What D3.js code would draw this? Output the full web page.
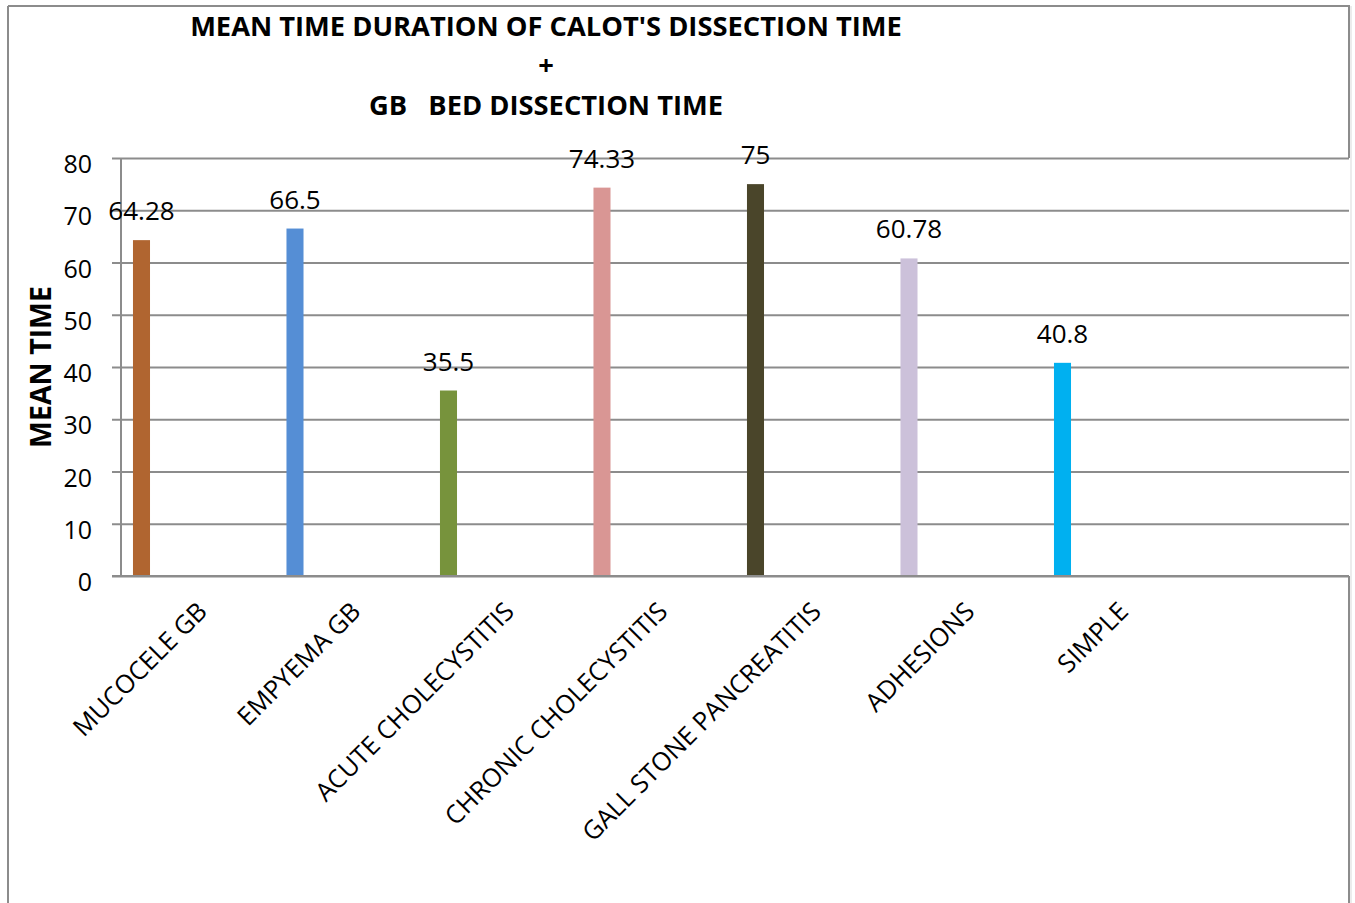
<!DOCTYPE html>
<html>
<head>
<meta charset="utf-8">
<script src="https://cdn.jsdelivr.net/npm/d3@7"></script>
<style>
  html, body { margin: 0; padding: 0; background: #fff; }
  svg { display: block; }
  text { font-family: "Open Sans", "DejaVu Sans", sans-serif; fill: #000; }
</style>
</head>
<body>
<svg id="chart" width="1355" height="903"></svg>
<script>
// Surgical categories and mean dissection time (minutes)
const categories = ["MUCOCELE GB", "EMPYEMA GB", "ACUTE CHOLECYSTITIS", "CHRONIC CHOLECYSTITIS",
                    "GALL STONE PANCREATITIS", "ADHESIONS", "SIMPLE"];
const meanTimes = [64.28, 66.5, 35.5, 74.33, 75, 60.78, 40.8];
const valueLabels = ["64.28", "66.5", "35.5", "74.33", "75", "60.78", "40.8"];
const barColors = ["#B06530", "#558ED5", "#77933C", "#D99694", "#4A452A", "#CCC1DA", "#00B0F0"];
const yTicks = [0, 10, 20, 30, 40, 50, 60, 70, 80];
const titleLines = ["MEAN TIME DURATION OF CALOT'S DISSECTION TIME", "+", "GB   BED DISSECTION TIME"];
const yTitle = "MEAN TIME";

const svg = d3.select("#chart");
const W = 1355, H = 903;
const plot = { left: 121, right: 1349, top: 158, bottom: 576 };
const gridColor = "#8c8c8c";

// Outer chart frame
svg.append("line").attr("x1", 8).attr("x2", 8).attr("y1", 6).attr("y2", H)
  .attr("stroke", gridColor).attr("stroke-width", 2);
svg.append("line").attr("x1", 8).attr("x2", 1350).attr("y1", 6).attr("y2", 6)
  .attr("stroke", gridColor).attr("stroke-width", 2);
svg.append("line").attr("x1", 1351).attr("x2", 1351).attr("y1", 6).attr("y2", H)
  .attr("stroke", "#d9d9d9").attr("stroke-width", 1);
[[6, plot.top], [plot.bottom, H]].forEach(([a, b]) => {
  svg.append("line").attr("x1", 1349).attr("x2", 1349).attr("y1", a).attr("y2", b)
    .attr("stroke", gridColor).attr("stroke-width", 2);
});

// Scales: eight category slots, the last one left empty
const slots = categories.concat(["__empty__"]);
const x = d3.scaleBand().domain(slots).range([plot.left, plot.right]).padding(0);
const y = d3.scaleLinear().domain([0, 80]).range([plot.bottom, plot.top]);
const bw = x.bandwidth();
const barOffset = bw * 0.078;
const barWidth = bw * 0.111;

// Horizontal gridlines + tick marks + tick labels
const yAxis = d3.axisLeft(y).tickValues(yTicks).tickSize(-(plot.right - plot.left)).tickPadding(0).tickFormat(d3.format("d"));
const yg = svg.append("g").attr("transform", `translate(${plot.left},0)`).call(yAxis);
yg.select(".domain").remove();
yg.selectAll(".tick line").attr("stroke", gridColor).attr("stroke-width", 2).attr("x1", -9);
yg.selectAll(".tick text")
  .attr("x", -29).attr("dy", "0.98em").attr("y", -10)
  .style("font-size", "25px").style("font-family", "'Open Sans', sans-serif")
  .attr("fill", "#000");

// Vertical axis line
svg.append("line").attr("x1", plot.left).attr("x2", plot.left).attr("y1", plot.top).attr("y2", plot.bottom)
  .attr("stroke", gridColor).attr("stroke-width", 2);

// Bars
svg.append("g").selectAll("rect").data(categories).join("rect")
  .attr("x", (d) => x(d) + barOffset)
  .attr("width", barWidth)
  .attr("y", (d, i) => y(meanTimes[i]))
  .attr("height", (d, i) => y(0) - y(meanTimes[i]))
  .attr("fill", (d, i) => barColors[i]);

// Value labels above bars
svg.append("g").selectAll("text").data(categories).join("text")
  .attr("x", (d) => x(d) + barOffset + barWidth / 2)
  .attr("y", (d, i) => y(meanTimes[i]) - 20)
  .attr("text-anchor", "middle")
  .style("font-size", "26px")
  .text((d, i) => valueLabels[i]);

// Category labels, rotated
const xAxis = d3.axisBottom(x).tickValues(categories).tickSize(0).tickPadding(0);
const xg = svg.append("g").attr("transform", `translate(0,${plot.bottom})`).call(xAxis);
xg.select(".domain").remove();
xg.selectAll(".tick text")
  .attr("text-anchor", "end")
  .attr("dy", 0).attr("y", 0)
  .attr("transform", "translate(11,37) rotate(-45)")
  .style("font-size", "25.5px").style("font-family", "'Open Sans', sans-serif")
  .attr("fill", "#000");

// Baseline axis
svg.append("line").attr("x1", plot.left - 9).attr("x2", plot.right).attr("y1", plot.bottom).attr("y2", plot.bottom)
  .attr("stroke", gridColor).attr("stroke-width", 2);

// Title
const titleY = [36, 75, 115];
svg.append("g").selectAll("text").data(titleLines).join("text")
  .attr("x", 546).attr("y", (d, i) => titleY[i])
  .attr("text-anchor", "middle")
  .attr("xml:space", "preserve")
  .style("white-space", "pre")
  .style("font-size", "27.3px").style("font-weight", "bold")
  .text((d) => d);

// Y-axis title
svg.append("text")
  .attr("transform", "translate(51,367) rotate(-90)")
  .attr("text-anchor", "middle")
  .style("font-size", "28.5px").style("font-weight", "bold")
  .text(yTitle);
</script>
</body>
</html>
